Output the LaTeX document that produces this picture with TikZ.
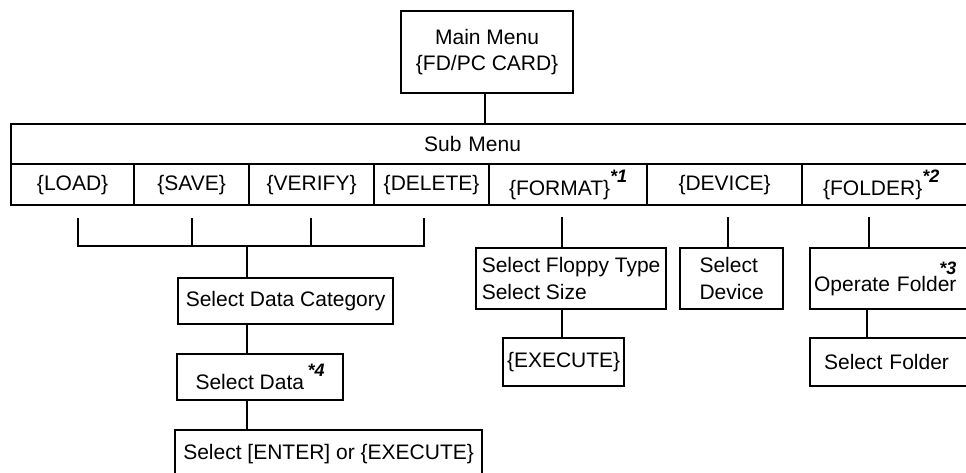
\documentclass[tikz,border=0pt]{standalone}
\usepackage{fontspec}
\setmainfont{Liberation Sans}
\usepackage{tikz}
\usetikzlibrary{positioning,calc}
\newcommand{\fnmark}[1]{\raisebox{13pt}{\fontsize{18}{18}\selectfont\bfseries\itshape *#1}}
\tikzset{
  box/.style={draw, line width=2.2pt, anchor=north west, inner xsep=0pt, inner ysep=0pt, align=center},
  cell/.style={box, minimum height=41pt},
  link/.style={line width=2.2pt}
}

\begin{document}
\begin{tikzpicture}[x=1pt, y=-1pt, font=\fontsize{21}{26.5}\selectfont]
\useasboundingbox (0,0) rectangle (966,472);
\clip (0,0) rectangle (966,472);
% top
\node[box, minimum width=172pt, minimum height=82pt] (main) at (400,10) {Main Menu\\\{FD/PC CARD\}};
\node[box, minimum height=40pt, inner xsep=413pt, text width=140pt, align=left] (head) at (10,123) {Sub Menu};
% sub menu row
\node[cell, minimum width=123pt] (load) at (10,163) {\{LOAD\}};
\node[cell, minimum width=115pt] (save) at (133,163) {\{SAVE\}};
\node[cell, minimum width=125pt] (verify) at (248,163) {\{VERIFY\}};
\node[cell, minimum width=115pt] (delete) at (373,163) {\{DELETE\}};
\node[cell, minimum width=158pt] (format) at (488,163) {\{FORMAT\}\fnmark{1}};
\node[cell, minimum width=155pt] (device) at (646,163) {\{DEVICE\}};
\node[cell, inner xsep=21pt, text width=134pt, align=left] (folder) at (801,163) {\{FOLDER\}\fnmark{2}};
% data branch
\node[box, minimum width=215pt, minimum height=46pt] (cat) at (177,277) {Select Data Category};
\node[box, minimum width=166pt, minimum height=46pt] (data) at (176,353) {Select Data\,\fnmark{4}};
\node[box, minimum width=307pt, minimum height=47pt] (enter) at (174,429) {Select [ENTER] or \{EXECUTE\}};
% format branch
\node[box, minimum width=190pt, minimum height=61pt, align=left] (floppy) at (475,247) {Select Floppy Type\\Select Size};
\node[box, minimum width=121pt, minimum height=48pt] (exec) at (502,337) {\{EXECUTE\}};
% device branch
\node[box, minimum width=103pt, minimum height=61pt, align=left] (seldev) at (679,247) {Select\\Device};
% folder branch
\node[box, minimum height=61pt, inner xsep=4pt, text width=160pt, align=left] (operate) at (809,247) {Operate Folder\llap{\raisebox{17pt}{\fontsize{18}{18}\selectfont\bfseries\itshape *3}}};
\node[box, minimum height=48pt, inner xsep=14pt, text width=140pt, align=left] (selfold) at (809,337) {Select Folder};
% ticks
\coordinate (t1) at (78,218);
\coordinate (t2) at (192,218);
\coordinate (t3) at (311,218);
\coordinate (t4) at (424,218);
\coordinate (jn) at (247,246);
\coordinate (tf) at (562,217);
\coordinate (td) at (728,217);
\coordinate (to) at (869,217);
\coordinate (ts) at (867,308);
\draw[link] (main.south -| 485,0) -- (head.north -| 485,0);
\draw[link] (t1) |- (t4 |- jn) -- (t4);
\draw[link] (t2) -- (t2 |- jn);
\draw[link] (t3) -- (t3 |- jn);
\draw[link] (jn) -- (jn |- cat.north);
\draw[link] (jn |- cat.south) -- (jn |- data.north);
\draw[link] (jn |- data.south) -- (jn |- enter.north);
\draw[link] (tf) -- (tf |- floppy.north);
\draw[link] (tf |- floppy.south) -- (tf |- exec.north);
\draw[link] (td) -- (td |- seldev.north);
\draw[link] (to) -- (to |- operate.north);
\draw[link] (ts) -- (ts |- selfold.north);
\end{tikzpicture}
\end{document}
